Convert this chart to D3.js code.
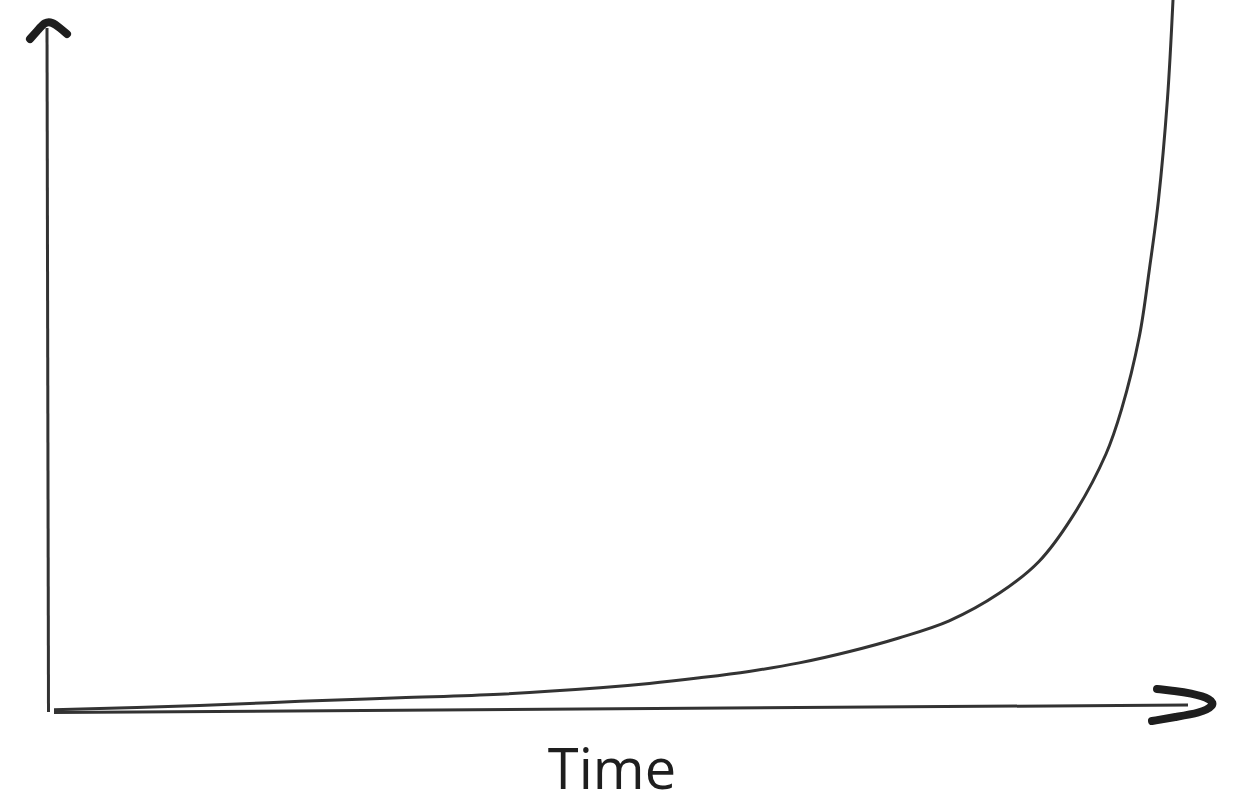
<!DOCTYPE html>
<html>
<head>
<meta charset="utf-8">
<script src="https://cdn.jsdelivr.net/npm/d3@7"></script>
<style>
  html, body { margin: 0; padding: 0; background: #fff; }
  svg { display: block; }
</style>
</head>
<body>
<script>
'use strict';

// curve: time (0-100) vs value (0-100)
var times = [0, 13.0, 22.0, 30.9, 39.8, 48.8, 53.2, 57.7, 62.1, 66.6, 71.1, 75.5, 80.0, 84.5, 88.0, 91.0, 94.0, 95.4, 97.0, 97.9, 98.7, 99.5, 100];
var values = [0.3, 0.9, 1.5, 2.0, 2.5, 3.4, 4.0, 4.8, 5.7, 6.9, 8.5, 10.4, 12.8, 16.7, 21.1, 27.4, 36.2, 42.5, 52.8, 62.3, 71.9, 86.0, 100];
var xLabel = 'Time';

var width = 1240;
var height = 804;

var x = d3.scaleLinear().domain([0, 100]).range([54, 1173]);
var y = d3.scaleLinear().domain([0, 100]).range([712, 0]);

var data = times.map(function (t, i) { return { t: t, v: values[i] }; });

var svg = d3.select('body').append('svg')
  .attr('width', width)
  .attr('height', height);

// hand-drawn axes (slightly off straight, like the sketch)
svg.append('line')
  .attr('x1', x(0) - 5.5).attr('y1', y(0))
  .attr('x2', x(0) - 7).attr('y2', 28)
  .attr('stroke', '#333')
  .attr('stroke-width', 3);

svg.append('line')
  .attr('x1', x(0)).attr('y1', y(0) + 0.5)
  .attr('x2', 1188).attr('y2', 705)
  .attr('stroke', '#333')
  .attr('stroke-width', 3);

var sketch = d3.line().curve(d3.curveBasis);

svg.append('path')
  .attr('d', sketch([[30, 39], [38, 30], [45, 22], [52, 22], [60, 28], [67, 34]]))
  .attr('fill', 'none')
  .attr('stroke', '#1e1e1e')
  .attr('stroke-width', 8)
  .attr('stroke-linecap', 'round')
  .attr('stroke-linejoin', 'round');

svg.append('path')
  .attr('d', sketch([[1157, 689], [1175, 691], [1190, 693], [1212, 699], [1214, 706], [1200, 713], [1175, 717], [1152, 721]]))
  .attr('fill', 'none')
  .attr('stroke', '#1e1e1e')
  .attr('stroke-width', 8)
  .attr('stroke-linecap', 'round')
  .attr('stroke-linejoin', 'round');

var line = d3.line()
  .curve(d3.curveCatmullRom.alpha(0.5))
  .x(function (d) { return x(d.t); })
  .y(function (d) { return y(d.v); });

svg.append('path')
  .datum(data)
  .attr('d', line)
  .attr('fill', 'none')
  .attr('stroke', '#333')
  .attr('stroke-width', 3);

svg.append('text')
  .attr('x', 612)
  .attr('y', 789)
  .attr('text-anchor', 'middle')
  .attr('font-family', '"Open Sans", "Noto Sans", sans-serif')
  .attr('font-size', 56)
  .attr('fill', '#1e1e1e')
  .text(xLabel);
</script>
</body>
</html>
